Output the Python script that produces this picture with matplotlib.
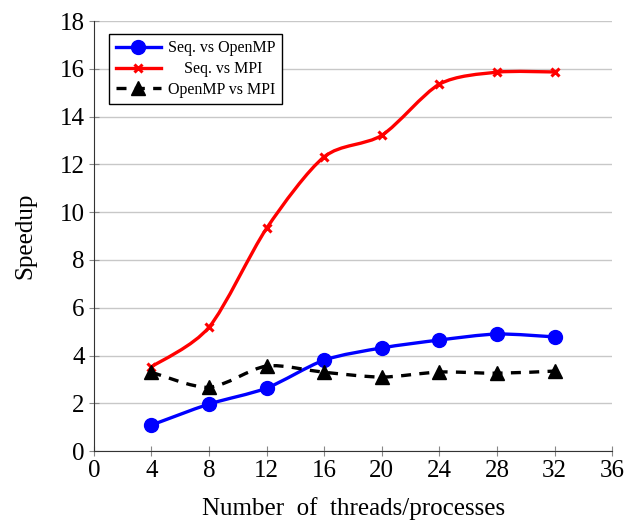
import numpy as np
import matplotlib.pyplot as plt
from matplotlib.path import Path
from matplotlib.patches import PathPatch
from matplotlib.lines import Line2D

plt.rcParams['font.family'] = ['Liberation Serif', 'DejaVu Serif']

threads = [4, 8, 12, 16, 20, 24, 28, 32]
seq_openmp = [1.09, 1.97, 2.64, 3.81, 4.32, 4.65, 4.90, 4.78]
seq_mpi = [3.53, 5.19, 9.33, 12.32, 13.22, 15.36, 15.86, 15.87]
openmp_mpi = [3.30, 2.67, 3.56, 3.30, 3.10, 3.31, 3.26, 3.35]


def smooth_path(x, y, t=0.14):
    # cubic bezier through the points, like pgfplots "smooth"
    p = np.column_stack([x, y]).astype(float)
    n = len(p)
    tang = np.zeros_like(p)
    for i in range(n):
        a = p[max(i - 1, 0)]
        b = p[min(i + 1, n - 1)]
        tang[i] = (b - a) * t
    verts = [p[0]]
    codes = [Path.MOVETO]
    for i in range(n - 1):
        verts += [p[i] + tang[i], p[i + 1] - tang[i + 1], p[i + 1]]
        codes += [Path.CURVE4] * 3
    return Path(verts, codes)


fig, ax = plt.subplots(figsize=(6.26, 5.27), dpi=100)
fig.subplots_adjust(left=0.150, right=0.978, bottom=0.144, top=0.960)

series = [
    (seq_openmp, 'blue', '-', 'o', 10, 'Seq. vs OpenMP'),
    (seq_mpi, 'red', '-', 'x', 5.5, '    Seq. vs MPI'),
    (openmp_mpi, 'black', (0, (3, 2.5)), '^', 10, 'OpenMP vs MPI'),
]
handles = []
for ys, col, ls, mk, ms, lab in series:
    patch = PathPatch(smooth_path(threads, ys), facecolor='none', edgecolor=col,
                      lw=2.4, linestyle=ls, zorder=3)
    ax.add_patch(patch)
    ax.plot(threads, ys, linestyle='none', marker=mk, color=col, ms=ms,
            mew=2.2 if mk == 'x' else 1, zorder=4)
    handles.append(Line2D([], [], color=col, lw=2.4, linestyle=ls, marker=mk,
                          ms=ms, mew=2.2 if mk == 'x' else 1))

xt = list(range(0, 37, 4))
yt = list(range(0, 19, 2))
ax.set_xlim(0, 36)
ax.set_ylim(0, 18)
ax.set_xticks(xt, [str(v) for v in xt], fontfamily='Liberation Serif')
ax.set_yticks(yt, [str(v) for v in yt], fontfamily='Liberation Serif')
ax.yaxis.grid(True, color='#c8c8c8', lw=1)
ax.set_axisbelow(True)
for s in ['top', 'right']:
    ax.spines[s].set_visible(False)
for s in ['left', 'bottom']:
    ax.spines[s].set_color('#333333')
ax.tick_params(direction='inout', length=7, color='#888888', labelsize=18,
               pad=3)

ax.set_xlabel('Number  of  threads/processes', fontsize=18, labelpad=11)
ax.set_ylabel('Speedup', fontsize=18, labelpad=17)

leg = ax.legend(handles, [s[5] for s in series], loc='upper left',
                bbox_to_anchor=(0.03, 0.970), fontsize=11.5, fancybox=False,
                edgecolor='black', framealpha=1, handlelength=2.8,
                borderpad=0.4, labelspacing=0.3, handletextpad=0.45,
                borderaxespad=0)
leg.get_frame().set_linewidth(1.0)

fig.savefig('out.png', dpi=100)
